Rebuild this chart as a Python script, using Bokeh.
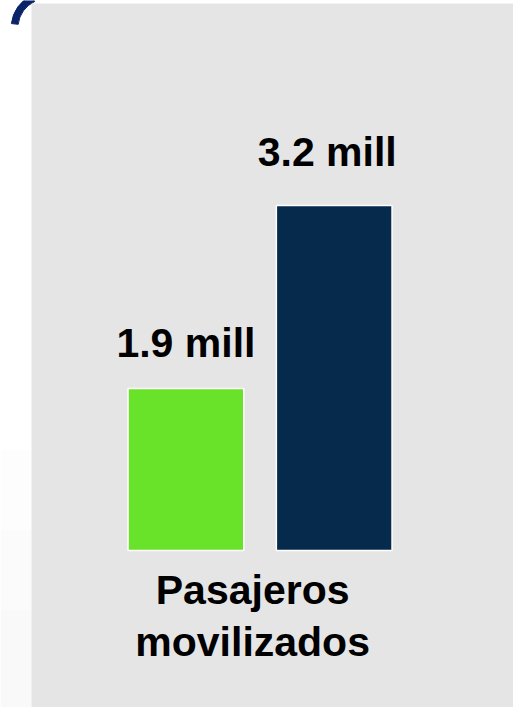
from bokeh.plotting import figure
from bokeh.models import Range1d, BoxAnnotation, ColumnDataSource
from bokeh.core.properties import value
from bokeh.embed import file_html
from bokeh.resources import INLINE

# ---- data ----
series = ["Serie A", "Serie B"]
values = [1.9, 3.2]
labels = ["1.9 mill", "3.2 mill"]
category = ["Pasajeros", "movilizados"]
colors = ["#69e22a", "#052a4b"]
baseline = 0.75

# ---- layout ----
W, H = 513, 707
sx = 148.3          # px per x unit
sy = 140.8          # px per y unit
x0 = -185.4 / sx
y0 = baseline - (H - 550) / sy
xr = Range1d(x0, x0 + W / sx)
yr = Range1d(y0, y0 + H / sy)

def px2x(px):
    return x0 + px / sx

def py2y(py):
    return y0 + (H - py) / sy

p = figure(width=W, height=H, x_range=xr, y_range=yr, output_backend="svg",
           toolbar_location=None, min_border=0)
p.axis.visible = False
p.grid.visible = False
p.outline_line_color = None
p.background_fill_color = "#ffffff"
p.border_fill_color = "#ffffff"

# faint gradient on the left strip
for top_px, col in [(450, "#fdfdfd"), (530, "#fbfbfb"), (610, "#f9f9f9")]:
    p.add_layout(BoxAnnotation(right=px2x(31), top=py2y(top_px),
                               fill_color=col, fill_alpha=1, line_color=None,
                               level="underlay"))

# decorative arc (top-left), behind the grey panel
arc = p.annular_wedge(x=px2x(46), y=py2y(27), inner_radius=28.5, outer_radius=35.3,
                      inner_radius_units="screen", outer_radius_units="screen",
                      start_angle=2.0, end_angle=3.03, color="#0a2468")
arc.level = "image"

# grey panel
p.add_layout(BoxAnnotation(left=px2x(31), top=py2y(3), fill_color="#e5e5e5",
                           fill_alpha=1, line_color=None, level="underlay"))

xs = list(range(len(values)))
src = ColumnDataSource(dict(x=xs, top=values, color=colors, label=labels,
                            xo=[0, -7], yo=[-46, -54]))
p.vbar(x="x", top="top", bottom=baseline, width=0.78, fill_color="color",
       line_color="white", line_width=1.5, source=src)

p.text(x="x", y="top", text="label", x_offset="xo", y_offset="yo", source=src,
       text_align="center", text_baseline="alphabetic",
       text_font=value("Liberation Sans"), text_font_style="bold",
       text_font_size="41px", text_color="black")

p.text(x=[0.45, 0.45], y=[baseline, baseline], text=category,
       y_offset=[39, 91],
       text_align="center", text_baseline="alphabetic",
       text_font=value("Liberation Sans"), text_font_style="bold",
       text_font_size="41px", text_color="black")

open("out.html", "w").write(file_html(p, INLINE))
